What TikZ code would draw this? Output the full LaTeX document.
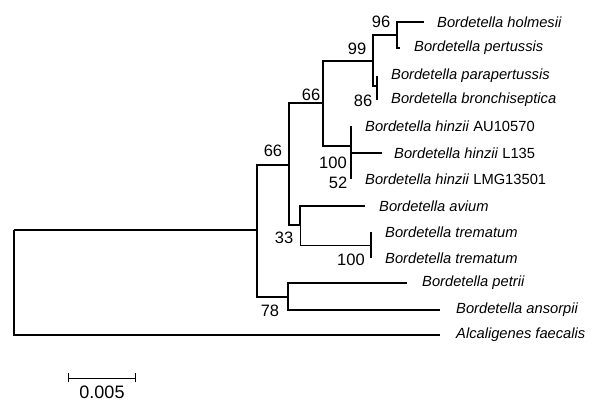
\documentclass[tikz,border=0pt]{standalone}
\usepackage{fontspec}
\setmainfont{Liberation Sans}
\usetikzlibrary{positioning}

\tikzset{
  taxon/.style   = {anchor=west, inner sep=0pt, font=\fontsize{14.7}{16}\selectfont\itshape},
  boot/.style    = {inner sep=0pt, font=\fontsize{16.5}{18}\selectfont},
  branch/.style  = {line width=1.4pt},
  thinbranch/.style = {line width=0.9pt}
}

\begin{document}
\begin{tikzpicture}[x=1pt, y=-1pt, node distance=15pt]
    \useasboundingbox (0,0) rectangle (600,403);

    \coordinate (root)   at (14,230);
    \coordinate (ingrp)  at (257,230);
    \coordinate (n66a)   at (289,165);
    \coordinate (n66b)   at (323,103);
    \coordinate (n99)    at (373,61);
    \coordinate (n96)    at (397,35);
    \coordinate (n86)    at (377,86);
    \coordinate (n100h)  at (351,146);
    \coordinate (n52)    at (351,153);
    \coordinate (n33)    at (300,225);
    \coordinate (n100t)  at (371,245);
    \coordinate (n78)    at (288,297);

    \coordinate (holm)   at (424,22);
    \coordinate (pert)   at (400,48);
    \coordinate (para)   at (377,76);
    \coordinate (bron)   at (377,100);
    \coordinate (hAU)    at (351,126);
    \coordinate (hL)     at (382,153);
    \coordinate (hLMG)   at (351,179);
    \coordinate (aviu)   at (365,206);
    \coordinate (trem1)  at (371,232);
    \coordinate (trem2)  at (371,258);
    \coordinate (petr)   at (407,283);
    \coordinate (anso)   at (440,310);
    \coordinate (alca)   at (440,335);

    \node[taxon]	(tholm)  [right=13pt of holm]	{Bordetella holmesii};
    \node[taxon]	(tpert)  [right=14pt of pert]	{Bordetella pertussis};
    \node[taxon]	(tpara)  [right=14pt of para]	{Bordetella parapertussis};
    \node[taxon]	(tbron)  [right=14pt of bron]	{Bordetella bronchiseptica};
    \node[taxon]	(thAU)   [right=14pt of hAU]	{Bordetella hinzii \textup{AU10570}};
    \node[taxon]	(thL)    [right=12pt of hL]	{Bordetella hinzii \textup{L135}};
    \node[taxon]	(thLMG)  [right=14pt of hLMG]	{Bordetella hinzii \textup{LMG13501}};
    \node[taxon]	(taviu)  [right=14pt of aviu]	{Bordetella avium};
    \node[taxon]	(ttrem1) [right=14pt of trem1]	{Bordetella trematum};
    \node[taxon]	(ttrem2) [right=14pt of trem2]	{Bordetella trematum};
    \node[taxon]	(tpetr)  [right=15pt of petr]	{Bordetella petrii};
    \node[taxon]	(tanso)  [right=16pt of anso]	{Bordetella ansorpii};
    \node[taxon]	(talca)  [right=16pt of alca]	{Alcaligenes faecalis};

    \node[boot]	(b96)   at (381,22)	{96};
    \node[boot]	(b99)   at (357,49)	{99};
    \node[boot]	(b86)   at (363,101)	{86};
    \node[boot]	(b66b)  at (311,95)	{66};
    \node[boot]	(b66a)  at (273,151)	{66};
    \node[boot]	(b100h) at (333,163)	{100};
    \node[boot]	(b52)   at (338,183)	{52};
    \node[boot]	(b33)   at (284,238)	{33};
    \node[boot]	(b100t) at (351,260)	{100};
    \node[boot]	(b78)   at (270,311)	{78};

    \draw[branch]	(root) |- (ingrp);
    \draw[branch]	(root) |- (alca);
    \draw[branch]	(ingrp) |- (n66a);
    \draw[branch]	(ingrp) |- (n78);
    \draw[branch]	(n66a) |- (n66b);
    \draw[branch]	(n66a) |- (n33);
    \draw[branch]	(n66b) |- (n99);
    \draw[branch]	(n66b) |- (n100h);
    \draw[branch]	(n99) |- (n96);
    \draw[branch]	(n99) |- (n86);
    \draw[branch]	(n96) |- (holm);
    \draw[branch]	(n96) |- (pert);
    \draw[branch]	(n86) |- (para);
    \draw[branch]	(n86) |- (bron);
    \draw[branch]	(n100h) |- (hAU);
    \draw[branch]	(n100h) |- (hLMG);
    \draw[branch]	(n52) -- (hL);
    \draw[branch]	(n33) |- (aviu);
    \draw[thinbranch]	(n33) |- (n100t);
    \draw[branch]	(n100t) |- (trem1);
    \draw[branch]	(n100t) |- (trem2);
    \draw[branch]	(n78) |- (petr);
    \draw[branch]	(n78) |- (anso);

    \coordinate (sbl) at (68,378);
    \coordinate (sbr) at (135,378);
    \draw[thinbranch]	(sbl) -- (sbr);
    \draw[thinbranch]	([yshift=-4.5pt]sbl) -- ([yshift=4.5pt]sbl);
    \draw[thinbranch]	([yshift=-4.5pt]sbr) -- ([yshift=4.5pt]sbr);
    \node[boot, font=\fontsize{18}{20}\selectfont]	(scale) at (102,392)	{0.005};
\end{tikzpicture}
\end{document}
